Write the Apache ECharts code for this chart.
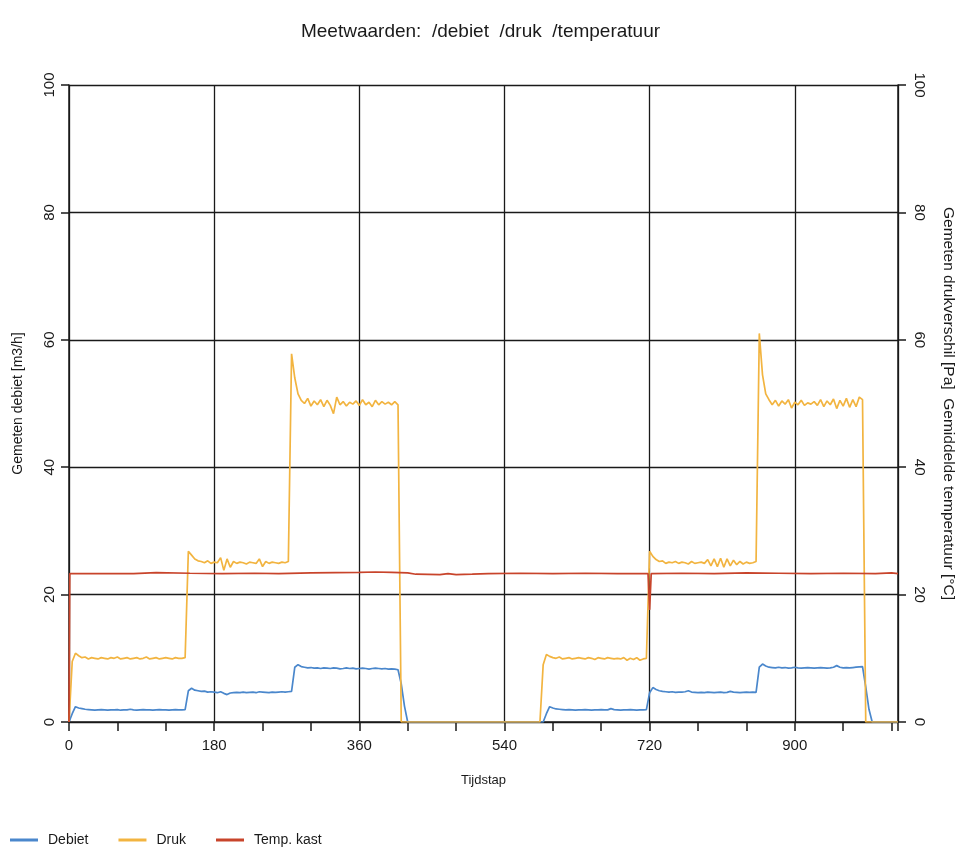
<!DOCTYPE html>
<html>
<head>
<meta charset="utf-8">
<title>Meetwaarden</title>
<script src="https://cdn.jsdelivr.net/npm/echarts@6/dist/echarts.min.js"></script>
<style>
  html, body { margin: 0; padding: 0; background: #ffffff; }
  #chart { width: 961px; height: 848px; }
</style>
</head>
<body>
<div id="chart"></div>
<script>
// Sampling step (timesteps) of the debiet and druk logs
const STAP = 4;

// Gemeten debiet [m3/h], one value per 4 timesteps (t = 0 .. 1028)
const debiet = [
  0, 1.3, 2.4, 2.2, 2.1, 2.0, 1.95, 1.9, 1.85, 1.9,
  1.95, 1.9, 1.85, 1.9, 1.9, 1.95, 1.85, 1.9, 1.9, 2.0,
  1.9, 1.85, 1.9, 1.95, 1.9, 1.9, 1.85, 1.9, 1.95, 1.9,
  1.9, 1.85, 1.9, 1.95, 1.9, 1.9, 1.95, 4.9, 5.3, 5.0,
  4.9, 4.8, 4.85, 4.7, 4.75, 4.7, 4.6, 4.75, 4.5, 4.3,
  4.55, 4.6, 4.65, 4.6, 4.7, 4.6, 4.65, 4.7, 4.6, 4.75,
  4.7, 4.65, 4.6, 4.7, 4.65, 4.7, 4.75, 4.7, 4.75, 4.8,
  8.6, 9.0, 8.7, 8.6, 8.5, 8.55, 8.45, 8.5, 8.4, 8.5,
  8.45, 8.4, 8.5, 8.45, 8.35, 8.4, 8.5, 8.4, 8.45, 8.35,
  8.4, 8.45, 8.4, 8.3, 8.4, 8.45, 8.4, 8.35, 8.4, 8.3,
  8.35, 8.3, 8.2, 6.0, 2.5, 0, 0, 0, 0, 0,
  0, 0, 0, 0, 0, 0, 0, 0, 0, 0,
  0, 0, 0, 0, 0, 0, 0, 0, 0, 0,
  0, 0, 0, 0, 0, 0, 0, 0, 0, 0,
  0, 0, 0, 0, 0, 0, 0, 0, 1.3, 2.4,
  2.2, 2.05, 2.0, 1.95, 1.9, 1.95, 1.9, 1.85, 1.9, 1.9,
  1.95, 1.9, 1.85, 1.9, 1.9, 1.95, 1.9, 1.9, 2.1, 1.95,
  1.9, 1.85, 1.9, 1.9, 1.95, 1.9, 1.85, 1.9, 1.9, 1.95,
  4.6, 5.4, 5.1, 4.9, 4.8, 4.75, 4.7, 4.75, 4.65, 4.7,
  4.7, 4.75, 4.9, 4.7, 4.65, 4.6, 4.65, 4.6, 4.7, 4.65,
  4.6, 4.65, 4.7, 4.6, 4.65, 4.8, 4.7, 4.65, 4.6, 4.65,
  4.7, 4.65, 4.7, 4.65, 8.6, 9.1, 8.8, 8.6, 8.55, 8.5,
  8.6, 8.5, 8.55, 8.45, 8.5, 8.6, 8.5, 8.45, 8.5, 8.55,
  8.5, 8.45, 8.5, 8.55, 8.5, 8.45, 8.5, 8.6, 8.85, 8.6,
  8.5, 8.55, 8.5, 8.55, 8.6, 8.65, 8.7, 5.5, 2.0, 0,
  0, 0, 0, 0, 0, 0, 0, 0
];

// Gemeten drukverschil [Pa], same sampling as debiet
const druk = [
  0, 9.5, 10.8, 10.4, 10.1, 10.2, 9.9, 10.1, 10.0, 9.9,
  10.1, 10.0, 9.9, 10.1, 10.0, 10.2, 9.9, 10.0, 10.1, 9.9,
  10.0, 10.1, 9.9, 10.0, 10.2, 9.9, 10.0, 10.1, 9.9, 10.0,
  10.1, 10.0, 9.9, 10.1, 10.0, 10.0, 10.1, 26.8, 26.2, 25.6,
  25.3, 25.2, 25.0, 25.3, 24.9, 25.1, 25.0, 25.8, 23.8, 25.6,
  24.3, 25.2, 24.9, 25.1, 25.0, 24.8, 25.1, 25.0, 24.9, 25.6,
  24.4, 25.2, 24.9, 25.1, 25.0, 24.9, 25.1, 25.0, 25.2, 57.8,
  54.0, 51.5, 50.5, 50.0, 50.8, 49.6, 50.4, 49.8, 50.6, 49.5,
  50.5, 49.7, 48.4, 51.0, 49.8, 50.3, 49.6, 50.2, 49.9, 50.4,
  49.7, 50.6, 49.8, 50.2, 49.5, 50.5, 49.8, 50.3, 49.9, 50.2,
  49.8, 50.3, 49.8, 0, 0, 0, 0, 0, 0, 0,
  0, 0, 0, 0, 0, 0, 0, 0, 0, 0,
  0, 0, 0, 0, 0, 0, 0, 0, 0, 0,
  0, 0, 0, 0, 0, 0, 0, 0, 0, 0,
  0, 0, 0, 0, 0, 0, 0, 9.0, 10.6, 10.3,
  10.1, 10.0, 10.2, 9.9, 10.0, 10.1, 9.9, 10.0, 10.1, 10.0,
  9.9, 10.1, 10.0, 9.8, 10.1, 10.0, 9.9, 10.1, 10.0, 9.9,
  10.0, 9.9, 10.1, 9.7, 10.0, 9.8, 10.1, 9.7, 9.9, 10.0,
  26.8, 26.0, 25.5, 25.2, 25.3, 24.9, 25.1, 25.0, 25.2, 24.9,
  25.1, 25.0, 24.8, 25.2, 24.9, 25.0, 25.1, 24.9, 25.5, 24.5,
  25.6, 24.4, 25.7, 24.3, 25.6, 24.5, 25.4, 24.7, 25.2, 24.8,
  25.1, 24.9, 25.0, 25.2, 61.0, 54.5, 51.5, 50.6, 49.8, 50.5,
  49.6, 50.4, 49.9, 50.6, 49.3, 50.2, 49.8, 50.5, 49.7, 50.1,
  49.9, 50.3, 49.7, 50.6, 49.5, 50.4, 49.8, 50.7, 49.2, 50.5,
  49.6, 50.8, 49.4, 50.6, 49.5, 51.0, 50.6, 0, 0, 0,
  0, 0, 0, 0, 0, 0, 0, 0
];

// Temperatuur in de kast [°C], logged at irregular timesteps
const tempTijd = [
  0, 1, 20, 40, 42, 44, 80, 108, 110, 150,
  190, 230, 260, 300, 330, 360, 380, 400, 420, 430,
  460, 470, 480, 500, 520, 560, 600, 640, 680, 718,
  720, 722, 760, 800, 840, 880, 920, 960, 1000, 1020,
  1028
];
const tempWaarde = [
  0, 23.3, 23.3, 23.3, 23.45, 23.3, 23.3, 23.45, 23.3, 23.35,
  23.3, 23.35, 23.3, 23.4, 23.45, 23.5, 23.55, 23.5, 23.4, 23.2,
  23.15, 23.3, 23.15, 23.2, 23.3, 23.35, 23.3, 23.35, 23.3, 23.3,
  17.6, 23.3, 23.35, 23.3, 23.4, 23.35, 23.3, 23.35, 23.3, 23.4,
  23.3
];

// Axis settings
const tijdMax = 1028;
const tijdLabelStap = 180;
const asMax = 100;
const asStap = 20;

const seriesNamen = ['Debiet', 'Druk', 'Temp. kast'];
const kleuren = ['#4a87cc', '#f2b440', '#c8442b'];

const viaStap = (vals) => vals.map((v, i) => [i * STAP, v]);
const tempData = tempTijd.map((t, i) => [t, tempWaarde[i]]);

const FONT = "'Liberation Sans', Arial, sans-serif";
const INK = '#1a1a1a';

const chart = echarts.init(document.getElementById('chart'), null, { renderer: 'canvas' });

const yAxisBase = {
  type: 'value',
  min: 0,
  max: asMax,
  interval: asStap,
  nameLocation: 'middle',
  nameTextStyle: { fontFamily: FONT, fontSize: 14, color: INK },
  axisLine: { show: true, lineStyle: { color: INK, width: 1.5 } },
  axisTick: { show: true, length: 8, lineStyle: { color: INK, width: 1.5 } },
  axisLabel: { fontFamily: FONT, fontSize: 15, color: INK }
};

chart.setOption({
  animation: false,
  backgroundColor: '#ffffff',
  color: kleuren,
  title: {
    text: 'Meetwaarden:  /debiet  /druk  /temperatuur',
    left: 'center',
    top: 17,
    textStyle: { fontFamily: FONT, fontSize: 19, fontWeight: 'normal', color: INK }
  },
  legend: {
    data: seriesNamen,
    left: 5,
    top: 828,
    icon: 'rect',
    itemWidth: 28,
    itemHeight: 3,
    itemGap: 30,
    textStyle: { fontFamily: FONT, fontSize: 14, color: INK, padding: [0, 0, 0, 5] }
  },
  grid: {
    left: 69, right: 63, top: 85, bottom: 126,
    outerBoundsMode: 'none', containLabel: false
  },
  xAxis: {
    type: 'value',
    min: 0,
    max: tijdMax,
    interval: tijdLabelStap,
    name: 'Tijdstap',
    nameLocation: 'middle',
    nameGap: 52,
    nameTextStyle: { fontFamily: FONT, fontSize: 13, color: INK },
    axisLine: { show: true, onZero: false, lineStyle: { color: INK, width: 1.5 } },
    axisTick: { show: true, length: 9, lineStyle: { color: INK, width: 1.5 } },
    minorTick: { show: true, splitNumber: 3, length: 9, lineStyle: { color: INK, width: 1.5 } },
    axisLabel: {
      fontFamily: FONT, fontSize: 15, color: INK, margin: 16,
      formatter: (v) => (v % tijdLabelStap === 0 ? String(v) : '')
    },
    splitLine: { show: true, lineStyle: { color: INK, width: 1.3 } }
  },
  yAxis: [
    Object.assign({}, yAxisBase, {
      position: 'left',
      name: 'Gemeten debiet [m3/h]',
      nameGap: 44,
      nameRotate: 90,
      axisLabel: Object.assign({}, yAxisBase.axisLabel, { rotate: 90, margin: 12 }),
      splitLine: { show: true, lineStyle: { color: INK, width: 1.3 } }
    }),
    Object.assign({}, yAxisBase, {
      position: 'right',
      name: 'Gemeten drukverschil [Pa]  Gemiddelde temperatuur [°C]',
      nameGap: 42,
      nameRotate: -90,
      nameTextStyle: { fontFamily: FONT, fontSize: 15.5, color: INK },
      axisLabel: Object.assign({}, yAxisBase.axisLabel, { rotate: -90, margin: 14 }),
      splitLine: { show: false }
    })
  ],
  series: [
    {
      name: seriesNamen[0], type: 'line', yAxisIndex: 0,
      data: viaStap(debiet), showSymbol: false, symbol: 'none',
      lineStyle: { width: 1.7, color: kleuren[0] }
    },
    {
      name: seriesNamen[1], type: 'line', yAxisIndex: 1,
      data: viaStap(druk), showSymbol: false, symbol: 'none',
      lineStyle: { width: 1.7, color: kleuren[1] }
    },
    {
      name: seriesNamen[2], type: 'line', yAxisIndex: 1,
      data: tempData, showSymbol: false, symbol: 'none',
      lineStyle: { width: 1.7, color: kleuren[2] }
    }
  ]
});
</script>
</body>
</html>
